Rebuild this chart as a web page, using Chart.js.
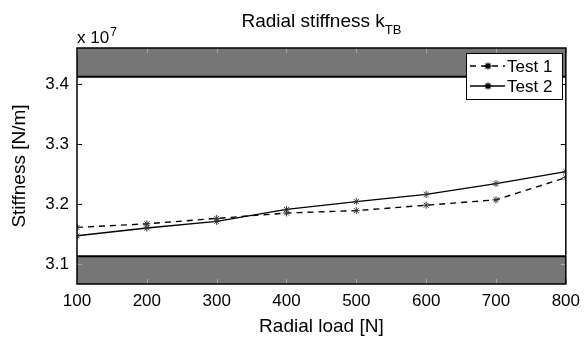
<!DOCTYPE html>
<html>
<head>
<meta charset="utf-8">
<script src="https://cdn.jsdelivr.net/npm/chart.js@4/dist/chart.umd.min.js"></script>
<style>
  html, body { margin: 0; padding: 0; background: #fff; }
  #wrap { width: 587px; height: 340px; }
</style>
</head>
<body>
<div id="wrap"><canvas id="c" width="587" height="340"></canvas></div>
<script>
// ---- data (stiffness in units of 10^7 N/m) ----
const loads = [100, 200, 300, 400, 500, 600, 700, 800];
const test1 = [3.161, 3.167, 3.176, 3.185, 3.189, 3.198, 3.207, 3.244];
const test2 = [3.147, 3.160, 3.171, 3.191, 3.204, 3.216, 3.234, 3.254];
const seriesNames = ['Test 1', 'Test 2'];
const xTicks = [100, 200, 300, 400, 500, 600, 700, 800];
const yTicks = [3.1, 3.2, 3.3, 3.4];
const yRange = [3.0667, 3.46];
const bandEdges = [3.113, 3.412]; // lower band top edge, upper band bottom edge
const titleMain = 'Radial stiffness k';
const titleSub = 'TB';
const xTitle = 'Radial load [N]';
const yTitle = 'Stiffness [N/m]';

const FONT = '"Liberation Sans", Arial, Helvetica, sans-serif';
const BAND = '#767676';

const decor = {
  id: 'decor',
  beforeDatasetsDraw(chart) {
    const {ctx, chartArea: a, scales: {x, y}} = chart;
    ctx.save();
    ctx.fillStyle = BAND;
    const yl = y.getPixelForValue(bandEdges[0]);
    const yu = y.getPixelForValue(bandEdges[1]);
    ctx.fillRect(a.left, yl, a.right - a.left, a.bottom - yl);
    ctx.fillRect(a.left, a.top, a.right - a.left, yu - a.top);
    ctx.strokeStyle = '#000';
    ctx.lineWidth = 2;
    ctx.beginPath();
    ctx.moveTo(a.left, yl); ctx.lineTo(a.right, yl);
    ctx.moveTo(a.left, yu); ctx.lineTo(a.right, yu);
    ctx.stroke();
    // inside tick marks
    const inBand = v => v < bandEdges[0] || v > bandEdges[1];
    ctx.lineWidth = 1;
    const tl = 5;
    yTicks.forEach(v => {
      const py = Math.round(y.getPixelForValue(v)) + 0.5;
      ctx.strokeStyle = inBand(v) ? '#a8a8a8' : '#000';
      ctx.beginPath();
      ctx.moveTo(a.left, py); ctx.lineTo(a.left + tl, py);
      ctx.moveTo(a.right, py); ctx.lineTo(a.right - tl, py);
      ctx.stroke();
    });
    xTicks.forEach(v => {
      const px = Math.round(x.getPixelForValue(v)) + 0.5;
      ctx.strokeStyle = '#a8a8a8';
      ctx.beginPath();
      ctx.moveTo(px, a.bottom); ctx.lineTo(px, a.bottom - tl);
      ctx.moveTo(px, a.top); ctx.lineTo(px, a.top + tl);
      ctx.stroke();
    });
    ctx.restore();
  },
  afterDraw(chart) {
    const {ctx, chartArea: a} = chart;
    ctx.save();
    // axes box
    ctx.strokeStyle = '#000';
    ctx.lineWidth = 1.5;
    ctx.strokeRect(a.left, a.top, a.right - a.left, a.bottom - a.top);

    ctx.fillStyle = '#000';
    // title with subscript
    ctx.font = '19px ' + FONT;
    const wMain = ctx.measureText(titleMain).width;
    ctx.font = '13px ' + FONT;
    const wSub = ctx.measureText(titleSub).width;
    const cx = (a.left + a.right) / 2;
    const tx = cx - (wMain + wSub) / 2;
    ctx.textBaseline = 'alphabetic';
    ctx.textAlign = 'left';
    ctx.font = '19px ' + FONT;
    ctx.fillText(titleMain, tx, 27);
    ctx.font = '13px ' + FONT;
    ctx.fillText(titleSub, tx + wMain, 34);

    // exponent label
    ctx.font = '17px ' + FONT;
    ctx.fillText('x 10', a.left, 43);
    const we = ctx.measureText('x 10').width;
    ctx.font = '12px ' + FONT;
    ctx.fillText('7', a.left + we + 1, 36);

    // x title
    ctx.font = '19px ' + FONT;
    ctx.textAlign = 'center';
    ctx.textBaseline = 'middle';
    ctx.fillText(xTitle, cx, 327);

    // y title
    ctx.save();
    ctx.translate(20, (a.top + a.bottom) / 2);
    ctx.rotate(-Math.PI / 2);
    ctx.fillText(yTitle, 0, 0);
    ctx.restore();

    // legend
    const lx = 466, ly = 53, lw = 96, lh = 46;
    ctx.fillStyle = '#fff';
    ctx.fillRect(lx, ly, lw, lh);
    ctx.strokeStyle = '#000';
    ctx.lineWidth = 1;
    ctx.strokeRect(lx + 0.5, ly + 0.5, lw, lh);
    chart.data.datasets.forEach((ds, i) => {
      const ry = ly + 13 + i * 20;
      ctx.strokeStyle = '#000';
      ctx.lineWidth = 1.3;
      ctx.setLineDash(ds.borderDash || []);
      ctx.beginPath();
      ctx.moveTo(lx + 4, ry); ctx.lineTo(lx + 39, ry);
      ctx.stroke();
      ctx.setLineDash([]);
      Chart.helpers.drawPoint(ctx, {pointStyle: ds.pointStyle, radius: ds.pointRadius, borderWidth: 1}, lx + 22, ry);
      ctx.fillStyle = '#000';
      ctx.font = '17px ' + FONT;
      ctx.textAlign = 'left';
      ctx.textBaseline = 'middle';
      ctx.fillText(ds.label, lx + 41, ry + 1);
    });
    ctx.restore();
  }
};

const mk = (name, vals, dash) => ({
  label: name,
  data: loads.map((l, i) => ({x: l, y: vals[i]})),
  borderColor: '#000',
  borderWidth: 1.4,
  borderDash: dash,
  pointStyle: 'star',
  pointRadius: 3.5,
  pointBorderColor: '#333',
  pointBackgroundColor: '#333',
  pointBorderWidth: 1,
  fill: false,
  tension: 0
});

new Chart(document.getElementById('c'), {
  type: 'line',
  data: {
    datasets: [
      mk(seriesNames[0], test1, [6, 5]),
      mk(seriesNames[1], test2, [])
    ]
  },
  options: {
    responsive: false,
    animation: false,
    layout: {padding: {top: 48, right: 20, left: 0, bottom: 0}},
    plugins: {legend: {display: false}, title: {display: false}, tooltip: {enabled: false}},
    scales: {
      x: {
        type: 'linear',
        min: xTicks[0], max: xTicks[xTicks.length - 1],
        afterFit: s => { s.height = 56; },
        afterBuildTicks: s => { s.ticks = xTicks.map(v => ({value: v})); },
        grid: {display: false, drawTicks: false},
        border: {display: false},
        ticks: {color: '#000', font: {family: FONT, size: 17}, padding: 7, maxRotation: 0}
      },
      y: {
        type: 'linear',
        min: yRange[0], max: yRange[1],
        afterFit: s => { s.width = 77; },
        afterBuildTicks: s => { s.ticks = yTicks.map(v => ({value: v})); },
        grid: {display: false, drawTicks: false},
        border: {display: false},
        ticks: {color: '#000', font: {family: FONT, size: 17}, padding: 8,
          callback: v => Number(v).toFixed(1)}
      }
    }
  },
  plugins: [decor]
});
</script>
</body>
</html>
